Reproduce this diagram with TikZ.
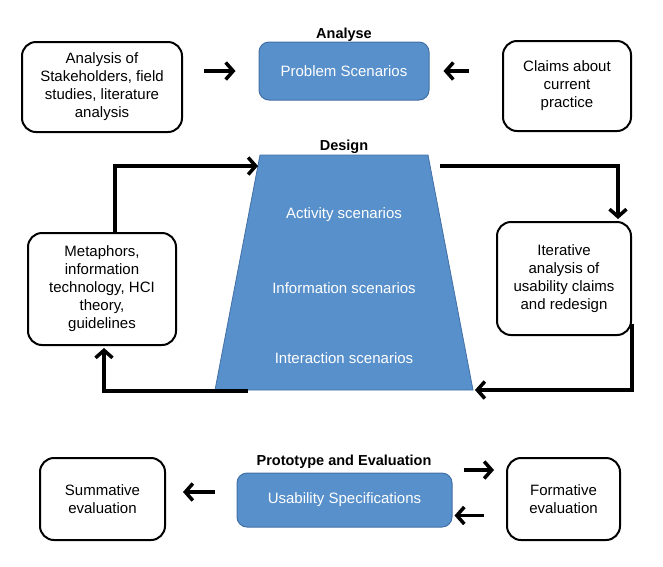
\documentclass[tikz,border=0pt]{standalone}
\usepackage{fontspec}
\setmainfont{Liberation Sans}
\usetikzlibrary{arrows.meta,calc}
\definecolor{boxblue}{RGB}{88,144,203}
\definecolor{boxedge}{RGB}{66,112,165}
\begin{document}
\begin{tikzpicture}[x=1pt,y=-1pt,
  wbox/.style={draw=black,line width=2pt,rounded corners=14pt,fill=white,align=center,
    font=\fontsize{15}{18}\selectfont,inner sep=0pt},
  bbox/.style={draw=boxedge,line width=1pt,rounded corners=10pt,fill=boxblue,text=white,
    align=center,font=\fontsize{15}{18}\selectfont,inner sep=0pt},
  ttl/.style={font=\bfseries\fontsize{14.5}{16}\selectfont,inner sep=0pt},
  wtxt/.style={text=white,font=\fontsize{15}{18}\selectfont,inner sep=0pt},
  arr/.style={line width=3.5pt,line join=miter,-{Straight Barb[length=7.5pt,width=17pt]}},
]
\useasboundingbox (0,0) rectangle (663,566);

% Analyse
\node[ttl] (tanalyse) at (344,35) {Analyse};
\node[wbox,minimum width=160,minimum height=90] (stake) at (102,87)
  {Analysis of\\Stakeholders, field\\studies, literature\\analysis};
\node[bbox,minimum width=170,minimum height=58] (prob) at (344,71) {Problem Scenarios};
\node[wbox,minimum width=128,minimum height=90] (claims) at (567,86)
  {Claims about\\current\\practice};
\draw[arr] ([xshift=21]stake.east |- prob) -- ([xshift=-23]prob.west);
\draw[arr] ([xshift=-33]claims.west |- prob) -- ([xshift=14]prob.east);

% Design
\coordinate (tl) at (260,155);
\coordinate (tr) at (428,155);
\coordinate (br) at (473,390);
\coordinate (bl) at (215,390);
\filldraw[fill=boxblue,draw=boxedge,line width=0.8pt] (tl) -- (tr) -- (br) -- (bl) -- cycle;
\node[ttl] (tdesign) at (344,147) {Design};
\node[wtxt] (act) at (344,215) {Activity scenarios};
\node[wtxt] (info) at (344,288) {Information scenarios};
\node[wtxt] (inter) at (344,358) {Interaction scenarios};

\node[wbox,minimum width=148,minimum height=112] (meta) at (102,289)
  {Metaphors,\\information\\technology, HCI\\theory,\\guidelines};
\node[wbox,minimum width=134,minimum height=113] (iter) at (564,278.5)
  {Iterative\\analysis of\\usability claims\\and redesign};

\coordinate (tin) at (258,166);
\coordinate (tout) at (440,166);
\coordinate (blout) at (248,391);
\draw[arr] ([xshift=13]meta.north) |- (tin);
\draw[arr] (tout) -| ([xshift=54,yshift=2]iter.north);
\draw[arr] ([yshift=-45]iter.east) |- ([xshift=2]br);
\draw[arr] (blout) -| ([xshift=2,yshift=-2]meta.south);

% Prototype and Evaluation
\node[ttl] (tproto) at (344,462) {Prototype and Evaluation};
\node[wbox,minimum width=125,minimum height=82] (summ) at (102.5,499) {Summative\\evaluation};
\node[bbox,minimum width=215,minimum height=54] (usab) at (344.5,500) {Usability Specifications};
\node[wbox,minimum width=113,minimum height=82] (form) at (563.5,499) {Formative\\evaluation};
\draw[arr] ([xshift=-22,yshift=8]usab.west) -- ([xshift=17]summ.east |- 0,492);
\draw[arr] ([xshift=11,yshift=30]usab.east) -- ([xshift=-12]form.west |- 0,470);
\draw[arr] ([xshift=-22,yshift=-15.5]form.west |- usab.east) -- ([xshift=2,yshift=-15.5]usab.east);
\end{tikzpicture}
\end{document}
